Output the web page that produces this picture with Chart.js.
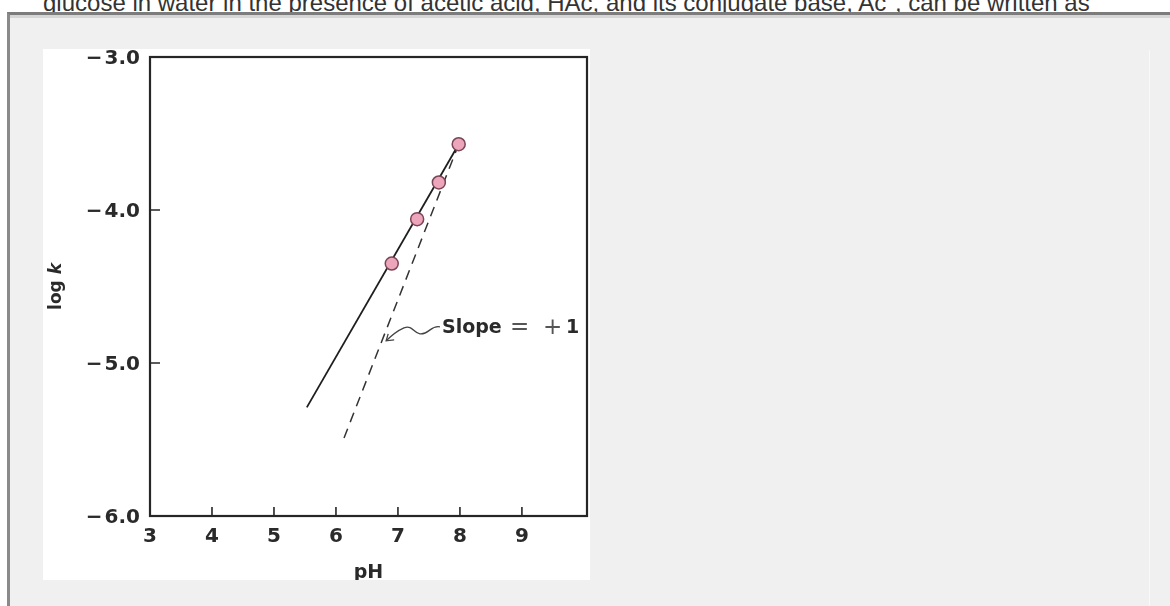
<!DOCTYPE html>
<html>
<head>
<meta charset="utf-8">
<script src="https://cdn.jsdelivr.net/npm/chart.js@4.4.1/dist/chart.umd.min.js"></script>
<style>
  body { margin: 0; width: 1170px; height: 606px; overflow: hidden; background: #fff; position: relative; }
  #intro { position: absolute; left: 43px; top: -9px; font-family: "Liberation Sans", Arial, sans-serif; font-size: 24px; line-height: 24px; color: #333; white-space: nowrap; }
  #intro span { position: relative; top: -9px; font-size: 15px; line-height: 0; }
  #panel { position: absolute; left: 7px; top: 12px; right: -10px; bottom: -10px; background: #f0f0f0; border-top: 3px solid #7c7c7c; border-left: 3px solid #8a8a8a; }
  #panel-in { position: absolute; left: 0; top: 0; right: 0; height: 3px; background: #d6d6d6; }
  #vline { position: absolute; left: 1149px; top: 50px; width: 1px; bottom: 0; background: #f9f9f9; }
  #hoja { position: absolute; left: 43px; top: 49px; width: 547px; height: 531px; background: #fff; overflow: hidden; }
  #graf { position: absolute; left: 0; top: -9px; }
</style>
</head>
<body>
<div id="intro">glucose in water in the presence of acetic acid, HAc, and its conjugate base, Ac<span>&minus;</span>, can be written as</div>
<div id="panel"><div id="panel-in"></div></div>
<div id="vline"></div>
<div id="hoja"><canvas id="graf" width="552" height="540"></canvas></div>
<script>
// ticks
const xTicks = [3, 4, 5, 6, 7, 8, 9];
const xTickLabels = ['3', '4', '5', '6', '7', '8', '9'];
const yTicks = [-6, -5, -4, -3];
const yTickLabels = ['\u2212\u200a6.0', '\u2212\u200a5.0', '\u2212\u200a4.0', '\u2212\u200a3.0'];

// measured points
const puntosX = [6.90, 7.31, 7.66, 7.98];
const puntosY = [-4.35, -4.06, -3.82, -3.57];

// solid fit line
const ajusteX = [5.53, 7.98];
const ajusteY = [-5.29, -3.57];

// dashed slope +1 line
const pendX = [6.13, 7.98];
const pendY = [-5.49, -3.57];

// annotation anchors (data units)
const notaTexto = [7.71, -4.77];
const notaFlecha = [6.81, -4.855];

function pares(xs, ys) {
    let out = [];
    for (let i = 0; i < xs.length; i++) {
        out.push({x: xs[i], y: ys[i]});
    }
    return out;
}

function sinPadding(s) {
    s.paddingLeft = 0;
    s.paddingRight = 0;
    s.paddingTop = 0;
    s.paddingBottom = 0;
}

const marco = {
    id: 'marco',
    afterDraw(chart) {
        const ctx = chart.ctx;
        const a = chart.chartArea;
        const sx = chart.scales.x;
        const sy = chart.scales.y;
        ctx.save();

        // box
        ctx.strokeStyle = '#262626';
        ctx.lineWidth = 2.2;
        ctx.strokeRect(a.left, a.top, a.right - a.left, a.bottom - a.top);

        // inner ticks
        ctx.lineWidth = 1.6;
        ctx.beginPath();
        xTicks.forEach(v => {
            if (v === sx.min) return;
            let px = sx.getPixelForValue(v);
            ctx.moveTo(px, a.bottom);
            ctx.lineTo(px, a.bottom - 9);
        });
        yTicks.forEach(v => {
            if (v === sy.min || v === sy.max) return;
            let py = sy.getPixelForValue(v);
            ctx.moveTo(a.left, py);
            ctx.lineTo(a.left + 10, py);
        });
        ctx.stroke();

        // x title
        ctx.fillStyle = '#2a2a2a';
        ctx.font = 'bold 19px "DejaVu Sans"';
        ctx.textAlign = 'center';
        ctx.textBaseline = 'alphabetic';
        ctx.fillText('pH', (a.left + a.right) / 2, a.bottom + 62);

        // y title: log k
        ctx.save();
        ctx.translate(18, (a.top + a.bottom) / 2);
        ctx.rotate(-Math.PI / 2);
        ctx.textAlign = 'left';
        ctx.font = 'bold 17px "DejaVu Sans"';
        let w1 = ctx.measureText('log ').width;
        ctx.font = 'italic bold 17px "DejaVu Sans"';
        let w2 = ctx.measureText('k').width;
        let x0 = -(w1 + w2) / 2;
        ctx.font = 'bold 17px "DejaVu Sans"';
        ctx.fillText('log ', x0, 0);
        ctx.font = 'italic bold 17px "DejaVu Sans"';
        ctx.fillText('k', x0 + w1, 0);
        ctx.restore();

        // annotation text
        let tx = sx.getPixelForValue(notaTexto[0]);
        let ty = sy.getPixelForValue(notaTexto[1]);
        ctx.textAlign = 'left';
        ctx.textBaseline = 'middle';
        ctx.fillStyle = '#2a2a2a';
        ctx.font = 'bold 19px "DejaVu Sans"';
        ctx.fillText('Slope', tx, ty);
        ctx.fillStyle = '#555';
        ctx.font = '23px "DejaVu Sans"';
        ctx.fillText('=', tx + 68, ty);
        ctx.fillText('+', tx + 101, ty);
        ctx.fillStyle = '#2a2a2a';
        ctx.font = 'bold 19px "DejaVu Sans"';
        ctx.fillText('1', tx + 124, ty);

        // curly arrow
        let ax = sx.getPixelForValue(notaFlecha[0]);
        let ay = sy.getPixelForValue(notaFlecha[1]);
        let px = tx - 2, py = ty - 1;
        ctx.strokeStyle = '#444';
        ctx.lineWidth = 1.3;
        ctx.beginPath();
        ctx.moveTo(px, py);
        ctx.bezierCurveTo(px - 9, py - 2, px - 11, py + 8, px - 20, py + 7);
        ctx.bezierCurveTo(px - 27, py + 6, px - 27, py - 2, px - 36, py + 1);
        ctx.quadraticCurveTo(px - 45, py + 5, ax, ay);
        ctx.stroke();
        ctx.beginPath();
        ctx.moveTo(ax + 8, ay - 1);
        ctx.lineTo(ax, ay);
        ctx.lineTo(ax + 2, ay - 7);
        ctx.stroke();

        ctx.restore();
    }
};

let graf = document.getElementById('graf');

let grafico = new Chart(graf, {
    type: 'scatter',
    data: {
        datasets: [{
            label: 'log k',
            data: pares(puntosX, puntosY),
            pointRadius: 6.5,
            pointBackgroundColor: '#eda5bb',
            pointBorderColor: '#7a4556',
            pointBorderWidth: 1.5,
            showLine: false
        }, {
            label: 'ajuste',
            data: pares(ajusteX, ajusteY),
            showLine: true,
            pointRadius: 0,
            borderColor: '#1e1e1e',
            borderWidth: 1.8
        }, {
            label: 'pendiente',
            data: pares(pendX, pendY),
            showLine: true,
            pointRadius: 0,
            borderColor: '#333',
            borderWidth: 1.5,
            borderDash: [10, 7]
        }]
    },
    options: {
        responsive: false,
        animation: false,
        devicePixelRatio: 1,
        layout: { padding: { top: 17, right: 0, left: 0, bottom: 0 } },
        plugins: {
            legend: { display: false },
            tooltip: { enabled: false }
        },
        scales: {
            x: {
                type: 'linear',
                min: 3,
                max: 10.05,
                grid: { display: false, drawTicks: false },
                border: { display: false },
                afterBuildTicks: s => { s.ticks = xTicks.map(v => ({value: v})); },
                afterFit: s => { s.height = 64; sinPadding(s); },
                ticks: {
                    autoSkip: false,
                    maxRotation: 0,
                    padding: 9,
                    color: '#2a2a2a',
                    font: { family: 'DejaVu Sans', weight: 'bold', size: 20 },
                    callback: v => xTickLabels[xTicks.indexOf(v)]
                }
            },
            y: {
                type: 'linear',
                min: -6,
                max: -3,
                grid: { display: false, drawTicks: false },
                border: { display: false },
                afterBuildTicks: s => { s.ticks = yTicks.map(v => ({value: v})); },
                afterFit: s => { s.width = 107; sinPadding(s); },
                ticks: {
                    autoSkip: false,
                    padding: 10,
                    labelOffset: 2,
                    color: '#2a2a2a',
                    font: { family: 'DejaVu Sans', weight: 'bold', size: 20 },
                    callback: v => yTickLabels[yTicks.indexOf(v)]
                }
            }
        }
    },
    plugins: [marco]
});
</script>
</body>
</html>
